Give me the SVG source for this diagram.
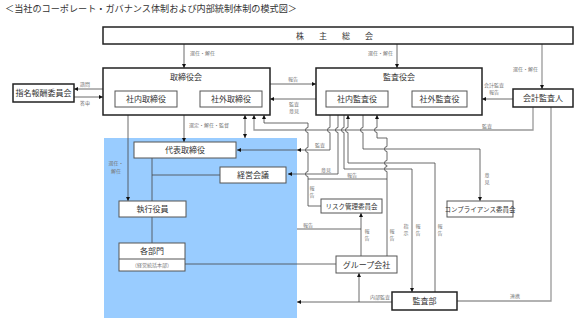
<svg xmlns="http://www.w3.org/2000/svg" width="584" height="327" viewBox="0 0 584 327">
<defs>
<marker id="ah" viewBox="0 0 6 6" refX="6" refY="3" markerUnits="userSpaceOnUse" markerWidth="4" markerHeight="4" orient="auto-start-reverse"><path d="M0,0 L6,3 L0,6 z" fill="#111"/></marker>
</defs>
<style>
text{font-family:"Noto Sans CJK JP","Noto Sans",sans-serif;}
.box{fill:#fff;stroke:#222;stroke-width:1.5}
.ibox{fill:#fff;stroke:#555;stroke-width:1}
.t{font-size:8px;fill:#333;text-anchor:middle}
.s{font-size:6.5px;fill:#333;text-anchor:middle}
.lb{font-size:5px;fill:#777}
.m{text-anchor:middle}
.e{text-anchor:end}
.c{fill:none;stroke:#444;stroke-width:0.8}
.g{fill:none;stroke:#999;stroke-width:1.3}
.a{marker-end:url(#ah)}
.b{marker-start:url(#ah)}
</style>
<text x="5" y="12" font-size="9" fill="#333" textLength="292" lengthAdjust="spacingAndGlyphs">＜当社のコーポレート・ガバナンス体制および内部統制体制の模式図＞</text>
<rect x="104" y="138" width="193" height="180" fill="#99CCFF"/>
<g id="connectors">
<path class="c a" d="M184,44 V68"/>
<path class="c a" d="M397,44 V68"/>
<path class="g a" d="M542,44 V89"/>
<path class="c a" d="M103,89 H74"/>
<path class="c a" d="M74,97 H103"/>
<path class="c a" d="M270,84 H316"/>
<path class="c a" d="M316,99 H270"/>
<path class="c a" d="M513,99 H482"/>
<path class="c a" d="M128,115 V201"/>
<path class="c a" d="M184,115 V142"/>
<path class="c a b" d="M245,115 V138"/>
<path class="c" d="M152,158 V201 M152,175 H220 M152,217 V243 M185,264 H336"/>
<path class="c a" d="M392,302 H297"/>
<path class="c a" d="M359,302 V273"/>
<path class="g" d="M457,301 H551 V107"/>
<path class="g a" d="M533,107 V130 H254 V115"/>
<path class="c b" d="M264,115 V123 H308 V127.5 A2.5,2.5 0 0 0 308,132.5 V147.5 A2.5,2.5 0 0 0 308,152.5 V171.5 A2.5,2.5 0 0 0 308,176.5 V206 H321"/>
<path class="c" d="M297,229 H361"/>
<path class="c a" d="M361,256 V213"/>
<path class="c" d="M387,179 H308"/>
<path class="c b" d="M377,115 V127.5 A2.5,2.5 0 0 0 377,132.5 V138 H387 V146.5 A2.5,2.5 0 0 0 387,151.5 V160.5 A2.5,2.5 0 0 0 387,165.5 V166.5 A2.5,2.5 0 0 0 387,171.5 V256"/>
<path class="c a" d="M330,115 V127.5 A2.5,2.5 0 0 0 330,132.5 V150 H237"/>
<path d="M297,150 l4,-2 v4 z" fill="#111"/>
<path class="c a" d="M338,115 V127.5 A2.5,2.5 0 0 0 338,132.5 V174 H288"/>
<path class="c a" d="M344,115 V127.5 A2.5,2.5 0 0 0 344,132.5 V169 H412 V292"/>
<path class="c b" d="M348,115 V127.5 A2.5,2.5 0 0 0 348,132.5 V163 H435 V292"/>
<path class="c a" d="M363,115 V127.5 A2.5,2.5 0 0 0 363,132.5 V149 H480 V201"/>
</g>
<g id="kabunushi"><rect class="box" x="103" y="27" width="470" height="17"/><text x="296" y="38.5" font-size="8" fill="#333" letter-spacing="15">株主総会</text></g>
<g id="torishimariyakukai"><rect class="box" x="103" y="68" width="167" height="47"/><text class="t" x="186" y="80">取締役会</text>
<rect class="ibox" x="115" y="91" width="62" height="16"/><text class="t" x="146" y="102">社内取締役</text>
<rect class="ibox" x="200" y="91" width="62" height="16"/><text class="t" x="231" y="102">社外取締役</text></g>
<g id="shimei"><rect class="box" x="13" y="84" width="61" height="18"/><text class="t" x="43.5" y="96" font-size="7">指名報酬委員会</text></g>
<g id="kansayakukai"><rect class="box" x="316" y="68" width="166" height="47"/><text class="t" x="399" y="80">監査役会</text>
<rect class="ibox" x="326" y="91" width="62" height="16"/><text class="t" x="357" y="102">社内監査役</text>
<rect class="ibox" x="412" y="91" width="55" height="16"/><text class="t" x="439.5" y="102">社外監査役</text></g>
<g id="kaikei"><rect class="box" x="513" y="89" width="60" height="18"/><text class="t" x="543" y="101">会計監査人</text></g>
<g id="daihyo"><rect class="ibox" x="134" y="142" width="102" height="16"/><text class="t" x="185" y="153">代表取締役</text></g>
<g id="keiei"><rect class="ibox" x="220" y="167" width="66" height="16"/><text class="t" x="253" y="178">経営会議</text></g>
<g id="shikko"><rect class="ibox" x="119" y="201" width="67" height="16"/><text class="t" x="152.5" y="212">執行役員</text></g>
<g id="kakubumon"><rect class="ibox" x="119" y="243" width="66" height="28"/><line x1="119" y1="259" x2="185" y2="259" stroke="#555"/><text class="t" x="152" y="254">各部門</text><text class="lb m" x="152" y="267" fill="#333">（経営統括本部）</text></g>
<g id="risk"><rect class="ibox" x="321" y="199" width="61" height="14"/><text class="s" x="351.5" y="208.5">リスク管理委員会</text></g>
<g id="group"><rect class="ibox" x="336" y="256" width="61" height="17"/><text class="t" x="366.5" y="267.5">グループ会社</text></g>
<g id="kansabu"><rect class="box" x="392" y="292" width="65" height="18" stroke-width="1.2"/><text class="t" x="424.5" y="304">監査部</text></g>
<g id="compliance"><rect class="ibox" x="447" y="201" width="66" height="16"/><text class="s" x="480" y="211.5">コンプライアンス委員会</text></g>
<g id="labels">
<text class="lb" x="190" y="55">選任・解任</text>
<text class="lb e" x="393" y="55">選任・解任</text>
<text class="lb e" x="538" y="71">選任・解任</text>
<text class="lb m" x="85" y="86">諮問</text>
<text class="lb m" x="85" y="105">答申</text>
<text class="lb m" x="293" y="81">報告</text>
<text class="lb m" x="294" y="106">監査</text>
<text class="lb m" x="294" y="113">意見</text>
<text class="lb m" x="494" y="87">会計監査</text>
<text class="lb m" x="494" y="94">報告</text>
<text class="lb m" x="116" y="165">選任・</text>
<text class="lb m" x="116" y="173">解任</text>
<text class="lb" x="189" y="127">選定・解任・監督</text>
<text class="lb m" x="487" y="128">監査</text>
<text class="lb m" x="320" y="147">監査</text>
<text class="lb m" x="326" y="172">意見</text>
<text class="lb m" x="352" y="177">報告</text>
<text class="lb m" x="308" y="227">報告</text>
<text class="lb m" x="312" y="190">報</text><text class="lb m" x="312" y="197">告</text>
<text class="lb m" x="367" y="233">報</text><text class="lb m" x="367" y="240">告</text>
<text class="lb m" x="392" y="233">報</text><text class="lb m" x="392" y="240">告</text>
<text class="lb m" x="406" y="228">指</text><text class="lb m" x="406" y="235">示</text>
<text class="lb m" x="418" y="228">報</text><text class="lb m" x="418" y="235">告</text>
<text class="lb m" x="440" y="228">報</text><text class="lb m" x="440" y="235">告</text>
<text class="lb m" x="487" y="177">意</text><text class="lb m" x="487" y="184">見</text>
<text class="lb m" x="515" y="298">連携</text>
<text class="lb e" x="390" y="299">内部監査</text>
</g>
</svg>
